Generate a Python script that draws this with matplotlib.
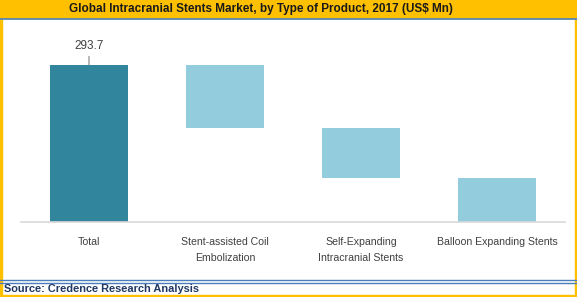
import numpy as np
import matplotlib
matplotlib.use("Agg")
import matplotlib.pyplot as plt
from matplotlib.patches import Rectangle
from matplotlib.lines import Line2D

# datos del grafico (US$ Mn)
categorias = ["Total", "Stent-assisted Coil\nEmbolization", "Self-Expanding\nIntracranial Stents",
              "Balloon Expanding Stents"]
total = 293.7
segmentos = [117.9, 93.5, 82.3]

oro = "#FFC000"
azul_linea = "#4A7EBB"
teal = "#31859C"
celeste = "#93CDDD"

fig = plt.figure(figsize=(5.77, 2.97), dpi=100)

# marco: barra de titulo, bordes y pie
fig.add_artist(Rectangle((0, 1 - 18 / 297), 1, 18 / 297, transform=fig.transFigure, color=oro, zorder=0))
fig.add_artist(Line2D([0, 1], [1 - 18.5 / 297] * 2, transform=fig.transFigure, color=azul_linea, lw=1.2))
fig.add_artist(Rectangle((0, 0), 2 / 577, 1, transform=fig.transFigure, color=oro, zorder=0))
fig.add_artist(Rectangle((1 - 2 / 577, 0), 2 / 577, 1, transform=fig.transFigure, color=oro, zorder=0))
fig.add_artist(Rectangle((0, 0), 1, 2 / 297, transform=fig.transFigure, color=oro, zorder=0))
fig.add_artist(Line2D([0, 1], [1 - 280 / 297] * 2, transform=fig.transFigure, color=azul_linea, lw=1.0))
fig.add_artist(Line2D([0, 1], [1 - 282.5 / 297] * 2, transform=fig.transFigure, color=azul_linea, lw=1.0))

fig.text(261 / 577, 1 - 9 / 297, "Global Intracranial Stents Market, by Type of Product, 2017 (US$ Mn)",
         ha="center", va="center", fontsize=8.45, fontweight="bold", color="#1a1a1a",
         family="Liberation Sans")
fig.text(4 / 577, 1 - 289.5 / 297, "Source: Credence Research Analysis", ha="left", va="center",
         fontsize=7.9, fontweight="bold", color="#1F3864", family="Liberation Sans")

ax = fig.add_axes([21 / 577, 1 - 222 / 297, 544 / 577, 187 / 297])

x = np.arange(len(categorias))
# barra total
ax.bar(x[0], total, width=0.576, color=teal)
# barras flotantes (cascada)
tope = total
for i, v in enumerate(segmentos):
    ax.bar(x[i + 1], v, bottom=tope - v, width=0.576, color=celeste)
    tope = tope - v

ax.annotate("%.1f" % total, xy=(x[0], total), xytext=(x[0], total + 24), ha="center", va="bottom",
            fontsize=8.5, color="#404040", family="Liberation Sans",
            arrowprops=dict(arrowstyle="-", color="#808080", lw=0.8, shrinkA=1, shrinkB=0))

ax.set_xlim(-0.5, 3.5)
ax.set_ylim(0, 350)
ax.set_xticks(x)
ax.set_xticklabels(categorias, fontsize=7.6, color="#404040", family="Liberation Sans",
                   linespacing=1.75)
ax.tick_params(axis="x", length=0, pad=11)
ax.set_yticks([])
for s in ["top", "right", "left"]:
    ax.spines[s].set_visible(False)
ax.spines["bottom"].set_color("#D9D9D9")
ax.spines["bottom"].set_linewidth(1.2)

plt.savefig("out.png", dpi=100)
